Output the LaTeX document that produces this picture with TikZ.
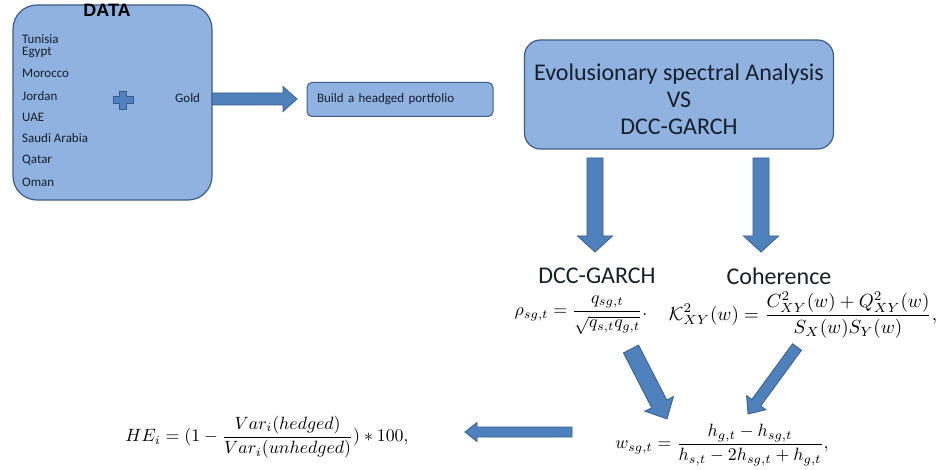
\documentclass[tikz,border=0pt]{standalone}
\usepackage{amsmath}
\usepackage{graphicx}
\usepackage{fontspec}
\setsansfont{Carlito}
\newfontfamily\datafont{Liberation Sans}
\usetikzlibrary{calc}
\definecolor{boxfill}{RGB}{143,178,224}
\definecolor{boxline}{RGB}{62,92,140}
\definecolor{arrfill}{RGB}{79,129,189}
\definecolor{arrline}{RGB}{56,93,138}
\definecolor{txt}{RGB}{25,30,45}
\tikzset{
  box/.style={draw=boxline, fill=boxfill, line width=1.2pt},
  barrow/.style={draw=arrline, fill=arrfill, line width=0.8pt, line join=miter},
  lbl/.style={font=\sffamily\fontsize{13}{15}\selectfont, inner sep=0pt, anchor=west, text=txt},
  big/.style={font=\sffamily\fontsize{24}{27}\selectfont, text=txt, inner sep=1pt},
  eq/.style={inner sep=0pt},
}
\newcommand\blockarrow[5]{%
  \coordinate (bkc) at ($(#2)!#5!(#1)$);
  \draw[barrow] ($(#1)!#3!90:(#2)$) -- ($(bkc)!#3!90:(#2)$) -- ($(bkc)!#4!90:(#2)$) -- (#2)
    -- ($(bkc)!#4!-90:(#2)$) -- ($(bkc)!#3!-90:(#2)$) -- ($(#1)!#3!-90:(#2)$) -- cycle;
}
\newcommand\eqscale{1.78}
\begin{document}
\begin{tikzpicture}[x=1pt,y=-1pt]
\fill[white] (0,0) rectangle (942,470);
\useasboundingbox (0,0) rectangle (942,470);
% DATA box
\node[box, rounded corners=24pt, minimum width=199pt, minimum height=195pt, inner sep=0pt] (data) at (112.5,102.5) {};
\node[font=\datafont\bfseries\fontsize{18}{20}\selectfont, text=black, inner sep=0pt] (datat) at (107,10) {DATA};
\node[lbl] (tun) at (22,39.5) {Tunisia};
\node[lbl] (egy) at (22,52.5) {Egypt};
\node[lbl] (mor) at (22,73) {Morocco};
\node[lbl] (jor) at (22,96) {Jordan};
\node[lbl] (uae) at (22,117) {UAE};
\node[lbl] (sau) at (22,138) {Saudi Arabia};
\node[lbl] (qat) at (22,160) {Qatar};
\node[lbl] (oma) at (22,182) {Oman};
\coordinate (plus) at (123,100);
\draw[barrow, shift={(plus)}] (-3.5,-9) -- (3.5,-9) -- (3.5,-3.5) -- (10,-3.5) -- (10,3.5) -- (3.5,3.5) -- (3.5,9) -- (-3.5,9) -- (-3.5,3.5) -- (-10,3.5) -- (-10,-3.5) -- (-3.5,-3.5) -- cycle;
\node[lbl] (gold) at (175,98) {Gold};
% Build box
\node[box, line width=1pt, rounded corners=5pt, minimum height=34pt, text width=166pt, inner xsep=10pt, align=left,
      font=\sffamily\fontsize{13}{15}\selectfont, text=txt] (build) at (400,99.5) {Build a headged portfolio};
% Big box
\node[box, rounded corners=16pt, minimum width=309pt, minimum height=109pt] (esa) at (679,94.5) {};
\node[big, align=center] (esat) at ($(esa.center)+(0,5)$) {Evolusionary spectral Analysis\\VS\\DCC-GARCH};
% labels
\node[big] (dcc) at (597,276) {DCC-GARCH};
\node[big] (coh) at (779,276) {Coherence};
% formulas
\node[eq] (rho) at (581,315) {\scalebox{\eqscale}{$\displaystyle \rho_{sg,t}=\frac{q_{sg,t}}{\sqrt{q_{s,t}q_{g,t}}}.$}};
\node[eq] (kxy) at (803,315) {\scalebox{1.9}{$\displaystyle \mathcal{K}^2_{XY}(w)=\frac{C^2_{XY}(w)+Q^2_{XY}(w)}{S_X(w)S_Y(w)},$}};
\node[eq] (wsg) at (722,445) {\scalebox{\eqscale}{$\displaystyle w_{sg,t}=\frac{h_{g,t}-h_{sg,t}}{h_{s,t}-2h_{sg,t}+h_{g,t}},$}};
\node[eq] (he) at (267,437) {\scalebox{\eqscale}{$\displaystyle HE_i=(1-\frac{Var_i(hedged)}{Var_i(unhedged)})*100,$}};
% arrows
\coordinate (a0s) at (212,99); \coordinate (a0e) at (297,99);
\blockarrow{a0s}{a0e}{6pt}{12.5pt}{14pt}
\coordinate (d1s) at (595,158); \coordinate (d1e) at (595,252);
\blockarrow{d1s}{d1e}{8pt}{17.5pt}{16pt}
\coordinate (d2s) at (761,158); \coordinate (d2e) at (761,252);
\blockarrow{d2s}{d2e}{8pt}{17.5pt}{16pt}
\coordinate (g1s) at (631,349); \coordinate (g1e) at (667,419);
\blockarrow{g1s}{g1e}{8.5pt}{16pt}{17pt}
\coordinate (g2s) at (797,347); \coordinate (g2e) at (748,414);
\blockarrow{g2s}{g2e}{5.5pt}{12pt}{14pt}
\coordinate (h1s) at (572,432); \coordinate (h1e) at (465,432);
\blockarrow{h1s}{h1e}{5pt}{9.5pt}{12pt}
\end{tikzpicture}
\end{document}
